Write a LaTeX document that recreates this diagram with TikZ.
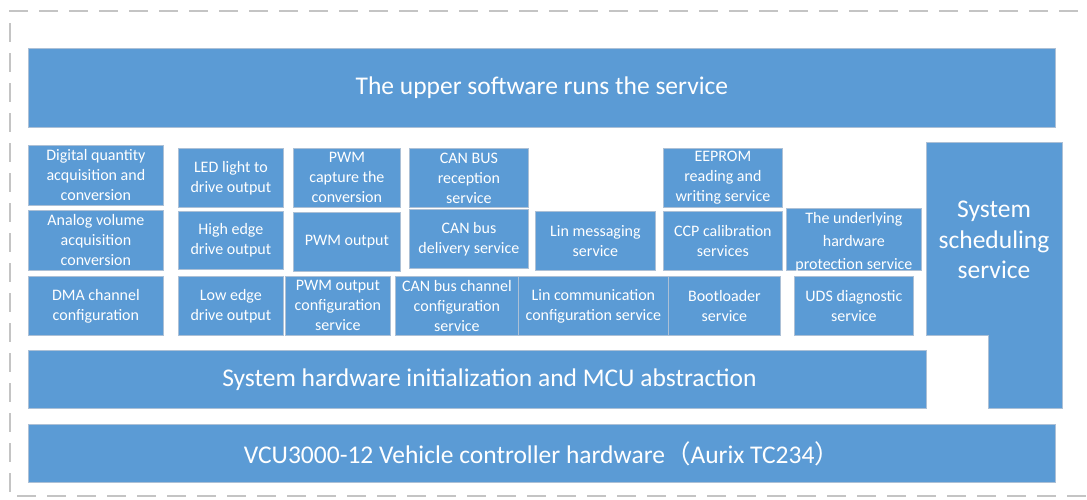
\documentclass[tikz,border=0pt]{standalone}
\usepackage{fontspec}
\setmainfont{Carlito}
\newfontfamily\cjk{Noto Sans CJK SC}
\definecolor{layerblue}{RGB}{91,155,213}
\definecolor{layeredge}{RGB}{172,192,214}
\definecolor{framegray}{RGB}{196,196,196}
\newcommand{\svc}[6]{\node[svc, minimum width=#4pt, minimum height=#5pt] (#1) at (#2,#3) {#6};}

\begin{document}
\begin{tikzpicture}[x=1pt, y=-1pt,
  svc/.style={draw=layeredge, line width=0.8pt, fill=layerblue, text=white,
    anchor=north west, inner sep=0pt, align=center,
    font=\fontsize{16}{20}\selectfont},
  layer/.style={svc, font=\fontsize{25.5}{30.5}\selectfont},
  layertext/.style={text=white, font=\fontsize{25.5}{30.5}\selectfont}]
  \useasboundingbox (0,0) rectangle (1087,499);
  \draw[framegray, line width=2.6pt, dash pattern=on 19pt off 11pt]
    (1078,11) -- (10,11) -- (10,496) -- (1087,496);

  % top and bottom layers
  \svc{upper}{28}{48}{1027}{79}{}
  \node[layertext] (uppertext) at (upper.center) {The upper software runs the service};
  \svc{init}{28}{350}{898}{58}{}
  \node[layertext, xshift=12pt] (inittext) at (init.center) {System hardware initialization and MCU abstraction};
  \node[layer, minimum width=1027pt, minimum height=58pt] (vcu) at (28,424) {VCU3000-12 Vehicle controller hardware{\cjk （}Aurix TC234{\cjk ）}};

  % service blocks
  \svc{dig}{28}{145}{135}{60}{Digital quantity\\acquisition and\\conversion}
  \svc{ana}{28}{210}{135}{60}{Analog volume\\acquisition\\conversion}
  \svc{dma}{28}{276}{135}{59}{DMA channel\\configuration}
  \svc{led}{178}{148}{105}{59}{LED light to\\drive output}
  \svc{high}{178}{211}{105}{58}{High edge\\drive output}
  \svc{low}{178}{276}{105}{59}{Low edge\\drive output}
  \svc{pwmcap}{293}{148}{107}{59}{PWM\\capture the\\conversion}
  \svc{pwmout}{293}{212}{107}{59}{PWM output}
  \svc{pwmcfg}{285}{276}{105}{59}{PWM output\\configuration\\service}
  \svc{canrx}{409}{148}{119}{59}{CAN BUS\\reception\\service}
  \svc{cantx}{409}{209}{119}{59}{CAN bus\\delivery service}
  \svc{cancfg}{395}{276}{123}{59}{CAN bus channel\\configuration\\service}
  \svc{linmsg}{535}{211}{120}{59}{Lin messaging\\service}
  \svc{lincfg}{518}{276}{150}{59}{Lin communication\\configuration service}
  \svc{eeprom}{663}{148}{119}{59}{EEPROM\\reading and\\writing service}
  \svc{ccp}{663}{211}{119}{59}{CCP calibration\\services}
  \svc{hwprot}{786}{208}{135}{62}{}
  \node[text=white, align=center, font=\fontsize{16}{23}\selectfont, yshift=-3pt] (hwprottext) at (hwprot.center) {The underlying\\hardware\\protection service};
  \svc{boot}{668}{276}{112}{59}{Bootloader\\service}
  \svc{uds}{794}{276}{119}{59}{UDS diagnostic\\service}

  % scheduling block
  \draw[layeredge, line width=0.8pt, fill=layerblue]
    (926,142) -- (1062,142) -- (1062,408) -- (988,408) -- (988,335) -- (926,335) -- cycle;
  \node[layer, draw=none, fill=none, anchor=center] (sched) at (994,240) {System\\scheduling\\service};
\end{tikzpicture}
\end{document}
